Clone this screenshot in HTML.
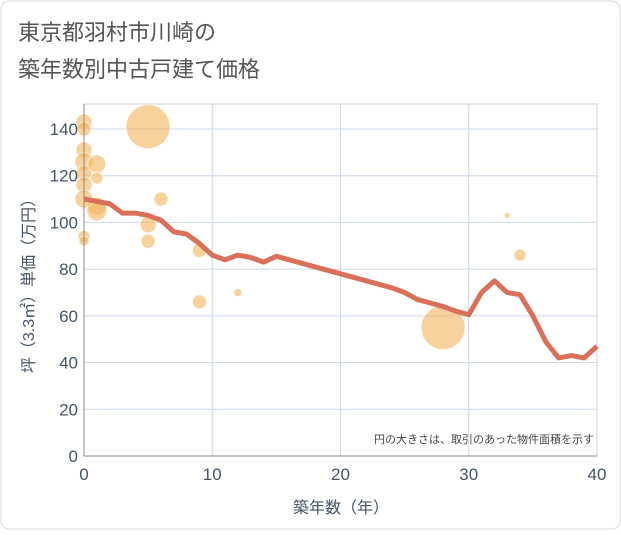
<!DOCTYPE html>
<html><head><meta charset="utf-8"><style>
body{margin:0;background:#fff;font-family:"Liberation Sans","Noto Sans CJK JP",sans-serif}
#wrap{position:relative;width:621px;height:530px}
</style></head><body>
<div id="wrap">
<svg id="svg" width="621" height="530">
<rect x="1" y="1" width="619" height="528" rx="8" fill="#fff" stroke="#ddd"/>
<text x="18" y="40" font-size="22" fill="#555">東京都羽村市川崎の</text>
<text x="18" y="77" font-size="22" fill="#555">築年数別中古戸建て価格</text>
<g id="grid"></g><g id="bubbles"></g><g id="line"></g><g id="axes"></g>
<text x="594" y="443" font-size="11" fill="#444" text-anchor="end">円の大きさは、取引のあった物件面積を示す</text>
<text x="341" y="513" font-size="16" fill="#456" text-anchor="middle">築年数（年）</text>
<text transform="translate(34,282) rotate(-90)" font-size="16" fill="#456" text-anchor="middle">坪（3.3㎡）単価（万円）</text>
</svg></div>
<script>
const lineYears=[0,1,2,3,4,5,6,7,8,9,10,11,12,13,14,15,16,17,18,19,20,21,22,23,24,25,26,27,28,29,30,31,32,33,34,35,36,37,38,39,40];
const lineValues=[110,109,108,104,104,103,101,96,95,91,86,84,86,85,83,85.5,84,82.5,81,79.5,78,76.5,75,73.5,72,70,67,65.5,64,62,60.5,70,75,70,69,60,49,42,43,42,47];
const bubbleX=[5,0,0,0,0,0,0,1,1,1,1,0,6,5,5,0,0,9,9,12,28,33,34];
const bubbleY=[141,143,140,131,126,121,116,125,119,107,105,110,110,99,92,94,92,88,66,70,55,103,86];
const bubbleR=[22,8,7,8,9,8,8,9,6,9,10,9,7,8,7,6,5,7,7,4,22,3,6];
const xTicks=[0,10,20,30,40];
const yTicks=[0,20,40,60,80,100,120,140];
const L=84,R=597,T=104,B=456;
const sx=v=>L+(v/40)*(R-L);
const sy=v=>B-(v/140)*(B-129);
const NS="http://www.w3.org/2000/svg";
function mk(p,t,a){const e=document.createElementNS(NS,t);for(const k in a)e.setAttribute(k,a[k]);document.getElementById(p).appendChild(e);return e;}
let bg=mk('grid','rect',{x:L,y:T,width:R-L,height:B-T,fill:'#fff',stroke:'#ccc'});


xTicks.forEach(v=>{const g=mk('grid','line',{x1:sx(v),x2:sx(v),y1:T,y2:B,stroke:'#c9d7e6'});


const t=mk('axes','text',{x:sx(v),y:B+24,'font-size':17,fill:'#456','text-anchor':'middle'});t.textContent=v;

});
yTicks.forEach(v=>{const g=mk('grid','line',{x1:L,x2:R,y1:sy(v),y2:sy(v),stroke:'#c9d7e6'});


const t=mk('axes','text',{x:L-6,y:sy(v)+6,'font-size':17,fill:'#456','text-anchor':'end'});t.textContent=v;

});
const ax=mk('axes','path',{d:`M${L},${T}V${B}H${R}`,fill:'none',stroke:'#888'});


bubbleX.forEach((x,i)=>{const c=mk('bubbles','circle',{cx:sx(x),cy:sy(bubbleY[i]),r:bubbleR[i],fill:'rgba(242,180,90,0.6)',stroke:'rgba(255,255,255,0.6)'});

});
const ln=mk('line','polyline',{points:lineYears.map((x,i)=>sx(x)+','+sy(lineValues[i])).join(' '),fill:'none',stroke:'#d9705a','stroke-width':5,'stroke-linejoin':'round'});


</script></body></html>
